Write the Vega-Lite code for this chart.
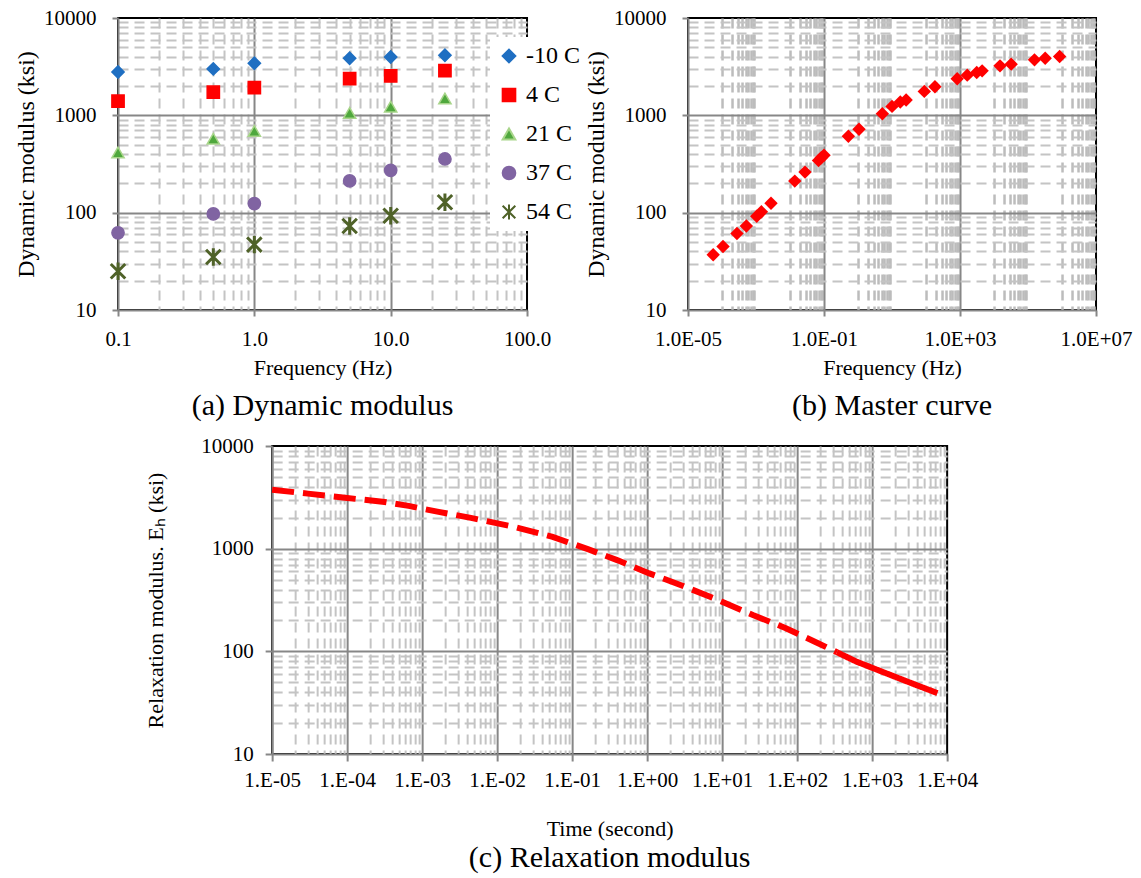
{
  "$schema": "https://vega.github.io/schema/vega-lite/v6.json",
  "background": "white",
  "padding": {"left": 13, "top": 6, "right": 5, "bottom": 2},
  "config": {
    "font": "Liberation Serif",
    "view": {"stroke": "#000000", "strokeWidth": 2},
    "axis": {
      "labelFont": "Liberation Serif", "titleFont": "Liberation Serif",
      "labelColor": "#000000", "titleColor": "#000000", "titleFontWeight": "normal",
      "labelFontSize": 21, "titleFontSize": 22,
      "domainColor": "#878787", "domainWidth": 2,
      "tickColor": "#878787", "tickWidth": 2, "tickSize": 6,
      "labelOverlap": false, "labelFlush": false, "labelBound": false
    },
    "title": {"font": "Liberation Serif", "fontSize": 30, "fontWeight": "normal", "color": "#000000", "orient": "bottom", "anchor": "middle"}
  },
  "vconcat": [
    {
      "hconcat": [
        {
          "width": 409, "height": 292,
          "title": {"text": "(a) Dynamic modulus", "orient": "bottom", "offset": 13},
          "data": {"values": [
            {"T": "-10 C", "f": 0.1, "E": 2790}, {"T": "-10 C", "f": 0.5, "E": 3000}, {"T": "-10 C", "f": 1, "E": 3430},
            {"T": "-10 C", "f": 5, "E": 3860}, {"T": "-10 C", "f": 10, "E": 3980}, {"T": "-10 C", "f": 25, "E": 4140},
            {"T": "4 C", "f": 0.1, "E": 1400}, {"T": "4 C", "f": 0.5, "E": 1730}, {"T": "4 C", "f": 1, "E": 1930},
            {"T": "4 C", "f": 5, "E": 2390}, {"T": "4 C", "f": 10, "E": 2540}, {"T": "4 C", "f": 25, "E": 2880},
            {"T": "21 C", "f": 0.1, "E": 415}, {"T": "21 C", "f": 0.5, "E": 575}, {"T": "21 C", "f": 1, "E": 690},
            {"T": "21 C", "f": 5, "E": 1060}, {"T": "21 C", "f": 10, "E": 1230}, {"T": "21 C", "f": 25, "E": 1490},
            {"T": "37 C", "f": 0.1, "E": 62}, {"T": "37 C", "f": 0.5, "E": 97}, {"T": "37 C", "f": 1, "E": 124},
            {"T": "37 C", "f": 5, "E": 212}, {"T": "37 C", "f": 10, "E": 272}, {"T": "37 C", "f": 25, "E": 356},
            {"T": "54 C", "f": 0.1, "E": 25}, {"T": "54 C", "f": 0.5, "E": 35}, {"T": "54 C", "f": 1, "E": 47},
            {"T": "54 C", "f": 5, "E": 73}, {"T": "54 C", "f": 10, "E": 93}, {"T": "54 C", "f": 25, "E": 128}
          ]},
          "layer": [
            {
              "mark": {"type": "point", "opacity": 0},
              "encoding": {
                "x": {"field": "f", "type": "quantitative", "scale": {"type": "log", "domain": [0.1, 100], "nice": false},
                  "axis": {"orient": "bottom", "values": [0.2,0.3,0.4,0.5,0.6,0.7,0.8,0.9,2,3,4,5,6,7,8,9,20,30,40,50,60,70,80,90],
                    "grid": true, "gridColor": "#c4c4c4", "gridDash": [10, 6], "gridWidth": 2, "labels": false, "ticks": false, "domain": false, "title": null}},
                "y": {"field": "E", "type": "quantitative", "scale": {"type": "log", "domain": [10, 10000], "nice": false},
                  "axis": {"orient": "left", "values": [20,30,40,50,60,70,80,90,200,300,400,500,600,700,800,900,2000,3000,4000,5000,6000,7000,8000,9000],
                    "grid": true, "gridColor": "#c4c4c4", "gridDash": [10, 6], "gridWidth": 2, "labels": false, "ticks": false, "domain": false, "title": null}}
              }
            },
            {
              "mark": {"type": "point", "opacity": 0},
              "encoding": {
                "x": {"field": "f", "type": "quantitative", "scale": {"type": "log", "domain": [0.1, 100], "nice": false},
                  "axis": {"orient": "bottom", "values": [1, 10], "grid": true, "gridColor": "#878787", "gridWidth": 2, "labels": false, "ticks": false, "domain": false, "title": null}},
                "y": {"field": "E", "type": "quantitative", "scale": {"type": "log", "domain": [10, 10000], "nice": false},
                  "axis": {"orient": "left", "values": [100, 1000], "grid": true, "gridColor": "#878787", "gridWidth": 2, "labels": false, "ticks": false, "domain": false, "title": null}}
              }
            },
            {
              "mark": {"type": "point", "filled": true, "opacity": 1},
              "encoding": {
                "x": {"field": "f", "type": "quantitative", "scale": {"type": "log", "domain": [0.1, 100], "nice": false},
                  "axis": {"orient": "bottom", "values": [0.1, 1, 10, 100], "format": ".1f", "grid": false, "title": "Frequency (Hz)", "labelPadding": 12, "titlePadding": 8}},
                "y": {"field": "E", "type": "quantitative", "scale": {"type": "log", "domain": [10, 10000], "nice": false},
                  "axis": {"orient": "left", "values": [10, 100, 1000, 10000], "format": "d", "grid": false, "title": "Dynamic modulus (ksi)", "titleFontSize": 24, "labelPadding": 16, "titlePadding": 5}},
                "shape": {"field": "T", "type": "nominal",
                  "scale": {"domain": ["-10 C", "4 C", "21 C", "37 C", "54 C"], "range": ["diamond", "square", "triangle-up", "circle", "M-1,-1L1,1M-1,1L1,-1M0,-1.2L0,1.2"]},
                  "legend": {"orient": "none", "legendX": 372, "legendY": 19, "title": null, "fillColor": "white", "padding": 7, "rowPadding": 15, "labelFontSize": 24, "labelFont": "Liberation Serif", "labelColor": "#000000", "symbolSize": 160, "symbolStrokeWidth": 2, "labelOffset": 5, "zindex": 2}},
                "fill": {"field": "T", "type": "nominal",
                  "scale": {"domain": ["-10 C", "4 C", "21 C", "37 C", "54 C"], "range": ["#1f6fc2", "#ff0000", "#4fa83d", "#8064a2", "#4f6228"]},
                  "legend": {"orient": "none", "legendX": 372, "legendY": 19, "title": null, "fillColor": "white", "padding": 7, "rowPadding": 15, "labelFontSize": 24, "labelFont": "Liberation Serif", "labelColor": "#000000", "symbolSize": 160, "symbolStrokeWidth": 2, "labelOffset": 5, "zindex": 2}},
                "stroke": {"field": "T", "type": "nominal",
                  "scale": {"domain": ["-10 C", "4 C", "21 C", "37 C", "54 C"], "range": ["#1f6fc2", "#ff0000", "#a8d58a", "#8064a2", "#4f6228"]},
                  "legend": {"orient": "none", "legendX": 372, "legendY": 19, "title": null, "fillColor": "white", "padding": 7, "rowPadding": 15, "labelFontSize": 24, "labelFont": "Liberation Serif", "labelColor": "#000000", "symbolSize": 160, "symbolStrokeWidth": 2, "labelOffset": 5, "zindex": 2}},
                "size": {"condition": {"test": "datum.T == '54 C'", "value": 210}, "value": 150},
                "strokeWidth": {"condition": {"test": "datum.T == '54 C'", "value": 3}, "value": 1.5}
              }
            }
          ],
          "resolve": {"axis": {"x": "independent", "y": "independent"}}
        },
        {
          "width": 408, "height": 292,
          "title": {"text": "(b) Master curve", "orient": "bottom", "offset": 13},
          "data": {"values": [
            {"f": 5.5e-5, "E": 37}, {"f": 1.07e-4, "E": 45}, {"f": 2.75e-4, "E": 61}, {"f": 5.2e-4, "E": 73},
            {"f": 1.05e-3, "E": 92}, {"f": 1.44e-3, "E": 102}, {"f": 2.76e-3, "E": 125}, {"f": 0.0138, "E": 211},
            {"f": 0.0276, "E": 261}, {"f": 0.069, "E": 343}, {"f": 0.083, "E": 366}, {"f": 0.1, "E": 389},
            {"f": 0.52, "E": 610}, {"f": 1.07, "E": 719}, {"f": 5.2, "E": 1040}, {"f": 10, "E": 1236},
            {"f": 17.5, "E": 1370}, {"f": 26, "E": 1437}, {"f": 89, "E": 1762}, {"f": 183, "E": 1967},
            {"f": 825, "E": 2373}, {"f": 1630, "E": 2587}, {"f": 3100, "E": 2754}, {"f": 4470, "E": 2865},
            {"f": 15000, "E": 3225}, {"f": 32000, "E": 3357}, {"f": 155000, "E": 3717}, {"f": 320000, "E": 3865},
            {"f": 850000, "E": 4018}
          ]},
          "layer": [
            {
              "mark": {"type": "point", "opacity": 0},
              "encoding": {
                "x": {"field": "f", "type": "quantitative", "scale": {"type": "log", "domain": [0.00001, 10000000], "nice": false},
                  "axis": {"orient": "bottom", "values": [0.0001,0.0002,0.0003,0.0004,0.0005,0.0006,0.0007,0.0008,0.0009,0.01,0.02,0.03,0.04,0.05,0.06,0.07,0.08,0.09,1,2,3,4,5,6,7,8,9,100,200,300,400,500,600,700,800,900,10000,20000,30000,40000,50000,60000,70000,80000,90000,1000000,2000000,3000000,4000000,5000000,6000000,7000000,8000000,9000000],
                    "grid": true, "gridColor": "#bcbcbc", "gridDash": [10, 6], "gridWidth": 2.5, "labels": false, "ticks": false, "domain": false, "title": null}},
                "y": {"field": "E", "type": "quantitative", "scale": {"type": "log", "domain": [10, 10000], "nice": false},
                  "axis": {"orient": "left", "values": [20,30,40,50,60,70,80,90,200,300,400,500,600,700,800,900,2000,3000,4000,5000,6000,7000,8000,9000],
                    "grid": true, "gridColor": "#c4c4c4", "gridDash": [10, 6], "gridWidth": 2, "labels": false, "ticks": false, "domain": false, "title": null}}
              }
            },
            {
              "mark": {"type": "point", "opacity": 0},
              "encoding": {
                "x": {"field": "f", "type": "quantitative", "scale": {"type": "log", "domain": [0.00001, 10000000], "nice": false},
                  "axis": {"orient": "bottom", "values": [0.1, 1000], "grid": true, "gridColor": "#878787", "gridWidth": 2, "labels": false, "ticks": false, "domain": false, "title": null}},
                "y": {"field": "E", "type": "quantitative", "scale": {"type": "log", "domain": [10, 10000], "nice": false},
                  "axis": {"orient": "left", "values": [100, 1000], "grid": true, "gridColor": "#878787", "gridWidth": 2, "labels": false, "ticks": false, "domain": false, "title": null}}
              }
            },
            {
              "mark": {"type": "point", "filled": true, "opacity": 1, "shape": "diamond", "size": 180, "color": "#ff0000"},
              "encoding": {
                "x": {"field": "f", "type": "quantitative", "scale": {"type": "log", "domain": [0.00001, 10000000], "nice": false},
                  "axis": {"orient": "bottom", "values": [0.00001, 0.1, 1000, 10000000], "grid": false, "title": "Frequency (Hz)", "labelPadding": 12, "titlePadding": 8,
                    "labelExpr": "(datum.value < 1 ? '1.0E-' : '1.0E+') + (abs(round(log(datum.value) / LN10)) < 10 ? '0' : '') + abs(round(log(datum.value) / LN10))"}},
                "y": {"field": "E", "type": "quantitative", "scale": {"type": "log", "domain": [10, 10000], "nice": false},
                  "axis": {"orient": "left", "values": [10, 100, 1000, 10000], "format": "d", "grid": false, "title": "Dynamic modulus (ksi)", "titleFontSize": 24, "labelPadding": 16, "titlePadding": 5}}
              }
            }
          ],
          "resolve": {"axis": {"x": "independent", "y": "independent"}}
        }
      ],
      "spacing": 161,
      "bounds": "flush"
    },
    {
      "width": 675, "height": 308,
      "title": {"text": "(c) Relaxation modulus", "orient": "bottom", "offset": 4},
      "data": {"values": [
        {"t": 0.00001, "E": 3750, "seg": "d"}, {"t": 0.00003, "E": 3436, "seg": "d"}, {"t": 0.0001, "E": 3118, "seg": "d"},
        {"t": 0.000316, "E": 2850, "seg": "d"}, {"t": 0.00066, "E": 2610, "seg": "d"}, {"t": 0.00166, "E": 2281, "seg": "d"},
        {"t": 0.00447, "E": 1994, "seg": "d"}, {"t": 0.017, "E": 1631, "seg": "d"}, {"t": 0.055, "E": 1303, "seg": "d"},
        {"t": 0.162, "E": 988, "seg": "d"}, {"t": 0.398, "E": 774, "seg": "d"}, {"t": 1.07, "E": 574, "seg": "d"},
        {"t": 2.95, "E": 436, "seg": "d"}, {"t": 9.55, "E": 309, "seg": "d"}, {"t": 25.7, "E": 226, "seg": "d"},
        {"t": 70.8, "E": 168, "seg": "d"}, {"t": 190, "E": 120, "seg": "d"}, {"t": 339, "E": 98, "seg": "d"},
        {"t": 339, "E": 98, "seg": "s"}, {"t": 617, "E": 79.4, "seg": "s"}, {"t": 1413, "E": 62.6, "seg": "s"},
        {"t": 3800, "E": 47.2, "seg": "s"}, {"t": 7413, "E": 39.2, "seg": "s"}
      ]},
      "layer": [
        {
          "mark": {"type": "point", "opacity": 0},
          "encoding": {
            "x": {"field": "t", "type": "quantitative", "scale": {"type": "log", "domain": [0.00001, 10000], "nice": false},
              "axis": {"orient": "bottom", "values": [0.00002,0.00003,0.00004,0.00005,0.00006,0.00007,0.00008,0.00009,0.0002,0.0003,0.0004,0.0005,0.0006,0.0007,0.0008,0.0009,0.002,0.003,0.004,0.005,0.006,0.007,0.008,0.009,0.02,0.03,0.04,0.05,0.06,0.07,0.08,0.09,0.2,0.3,0.4,0.5,0.6,0.7,0.8,0.9,2,3,4,5,6,7,8,9,20,30,40,50,60,70,80,90,200,300,400,500,600,700,800,900,2000,3000,4000,5000,6000,7000,8000,9000],
                "grid": true, "gridColor": "#c4c4c4", "gridDash": [10, 6], "gridWidth": 2, "labels": false, "ticks": false, "domain": false, "title": null}},
            "y": {"field": "E", "type": "quantitative", "scale": {"type": "log", "domain": [10, 10000], "nice": false},
              "axis": {"orient": "left", "values": [20,30,40,50,60,70,80,90,200,300,400,500,600,700,800,900,2000,3000,4000,5000,6000,7000,8000,9000],
                "grid": true, "gridColor": "#c4c4c4", "gridDash": [10, 6], "gridWidth": 2, "labels": false, "ticks": false, "domain": false, "title": null}}
          }
        },
        {
          "mark": {"type": "point", "opacity": 0},
          "encoding": {
            "x": {"field": "t", "type": "quantitative", "scale": {"type": "log", "domain": [0.00001, 10000], "nice": false},
              "axis": {"orient": "bottom", "values": [0.0001, 0.001, 0.01, 0.1, 1, 10, 100, 1000], "grid": true, "gridColor": "#878787", "gridWidth": 2, "labels": false, "ticks": false, "domain": false, "title": null}},
            "y": {"field": "E", "type": "quantitative", "scale": {"type": "log", "domain": [10, 10000], "nice": false},
              "axis": {"orient": "left", "values": [100, 1000], "grid": true, "gridColor": "#878787", "gridWidth": 2, "labels": false, "ticks": false, "domain": false, "title": null}}
          }
        },
        {
          "mark": {"type": "line", "color": "#ff0000", "strokeWidth": 6, "strokeCap": "butt"},
          "encoding": {
            "x": {"field": "t", "type": "quantitative", "scale": {"type": "log", "domain": [0.00001, 10000], "nice": false},
              "axis": {"orient": "bottom", "values": [0.00001, 0.0001, 0.001, 0.01, 0.1, 1, 10, 100, 1000, 10000], "grid": false, "title": "Time (second)", "tickSize": 7, "labelPadding": 8, "titlePadding": 28,
                "labelExpr": "(datum.value < 1 ? '1.E-' : '1.E+') + (abs(round(log(datum.value) / LN10)) < 10 ? '0' : '') + abs(round(log(datum.value) / LN10))"}},
            "y": {"field": "E", "type": "quantitative", "scale": {"type": "log", "domain": [10, 10000], "nice": false},
              "axis": {"orient": "left", "values": [10, 100, 1000, 10000], "format": "d", "grid": false, "title": "Relaxation modulus. Eₕ (ksi)", "tickSize": 7, "labelPadding": 12, "titlePadding": 33}},
            "strokeDash": {"field": "seg", "type": "nominal", "scale": {"domain": ["d", "s"], "range": [[22, 9], [1, 0]]}, "legend": null}
          }
        }
      ],
      "resolve": {"axis": {"x": "independent", "y": "independent"}}
    }
  ],
  "spacing": 12,
  "center": true
}
